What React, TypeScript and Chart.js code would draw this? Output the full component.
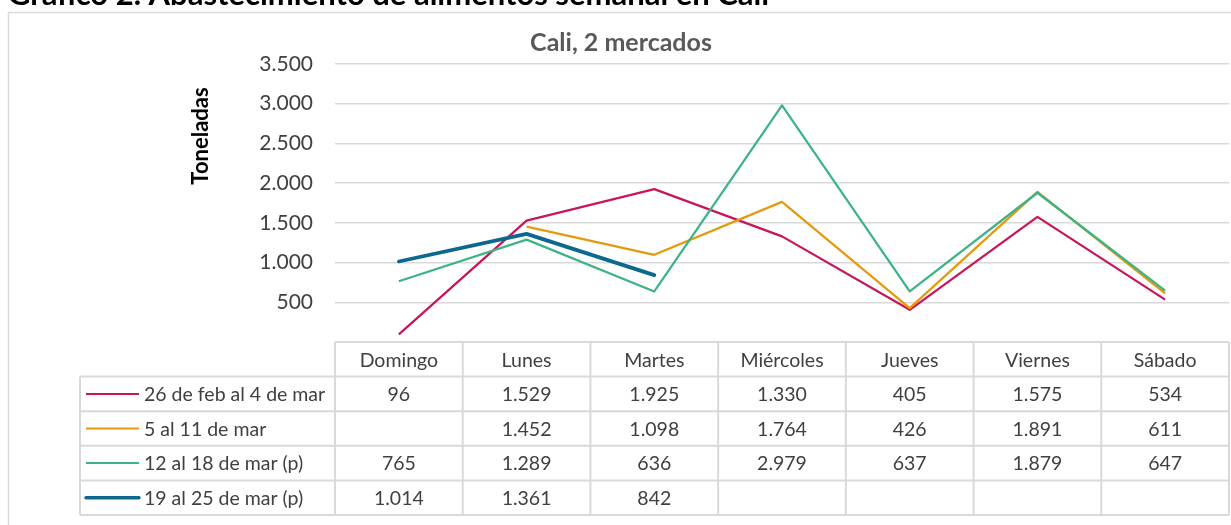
import React, { useEffect, useRef } from "react";
import { Chart, registerables } from "chart.js";

Chart.register(...registerables);

const pageTitle = "Gráfico 2. Abastecimiento de alimentos semanal en Cali";
const chartTitle = "Cali, 2 mercados";
const yAxisTitle = "Toneladas";
const categories = ["Domingo", "Lunes", "Martes", "Miércoles", "Jueves", "Viernes", "Sábado"];
const seriesLabels = ["26 de feb al 4 de mar", "5 al 11 de mar", "12 al 18 de mar (p)", "19 al 25 de mar (p)"];
const week1 = [96, 1529, 1925, 1330, 405, 1575, 534];
const week2 = [null, 1452, 1098, 1764, 426, 1891, 611];
const week3 = [765, 1289, 636, 2979, 637, 1879, 647];
const week4 = [1014, 1361, 842, null, null, null, null];
const seriesColors = ["#C8155C", "#E5990F", "#3DB386", "#0D6890"];
const seriesWidths = [2.25, 2.25, 2.25, 3.75];
const yMin = 0;
const yMax = 3500;
const yStep = 500;

const allSeries = [week1, week2, week3, week4];

function fmt(v: number | null): string {
  if (v === null || v === undefined) return "";
  return String(v).replace(/\B(?=(\d{3})+(?!\d))/g, ".");
}

const FONT = "Lato, 'Open Sans', sans-serif";
const GRID = "#d9d9d9";
const TEXT = "#404040";

const decorPlugin = {
  id: "decor",
  beforeDraw(chart: any) {
    const ctx = chart.ctx;
    ctx.save();
    ctx.fillStyle = "#ffffff";
    ctx.fillRect(0, 0, chart.width, chart.height);
    // outer box
    ctx.strokeStyle = GRID;
    ctx.lineWidth = 1.5;
    ctx.strokeRect(8.5, 12.5, chart.width + 20, chart.height + 20);
    // page title (cut off at the top)
    ctx.fillStyle = "#000000";
    ctx.font = `bold 31px ${FONT}`;
    ctx.textAlign = "left";
    ctx.textBaseline = "alphabetic";
    ctx.fillText(pageTitle, 8, 5);
    // chart title
    ctx.fillStyle = "#595959";
    ctx.font = `bold 25px ${FONT}`;
    ctx.textAlign = "center";
    ctx.textBaseline = "middle";
    ctx.fillText(chartTitle, 621, 43);
    // y axis title
    ctx.save();
    ctx.translate(201, 136);
    ctx.rotate(-Math.PI / 2);
    ctx.fillStyle = "#000000";
    ctx.font = `bold 22px ${FONT}`;
    ctx.fillText(yAxisTitle, 0, 0);
    ctx.restore();
    ctx.restore();
  },
  afterDraw(chart: any) {
    const ctx = chart.ctx;
    const xs = chart.scales.x;
    const area = chart.chartArea;
    const n = categories.length;
    const step = xs.getPixelForValue(1) - xs.getPixelForValue(0);
    const left = xs.getPixelForValue(0) - step / 2;
    const right = left + step * n;
    const top = area.bottom;
    const rowH = 34.6;
    const legendLeft = 80;
    const nRows = allSeries.length;
    ctx.save();
    ctx.strokeStyle = GRID;
    ctx.lineWidth = 2;
    const line = (x1: number, y1: number, x2: number, y2: number) => {
      ctx.beginPath();
      ctx.moveTo(x1, y1);
      ctx.lineTo(x2, y2);
      ctx.stroke();
    };
    line(left, top, right, top);
    for (let r = 1; r <= nRows + 1; r++) {
      line(legendLeft, top + r * rowH, right, top + r * rowH);
    }
    line(legendLeft, top + rowH, legendLeft, top + (nRows + 1) * rowH);
    for (let c = 0; c <= n; c++) {
      const x = left + c * step;
      line(x, top, x, top + (nRows + 1) * rowH);
    }
    ctx.fillStyle = TEXT;
    ctx.font = `19.5px ${FONT}`;
    ctx.textAlign = "center";
    ctx.textBaseline = "middle";
    categories.forEach((cat, i) => {
      ctx.fillText(cat, xs.getPixelForValue(i), top + rowH / 2 + 1);
    });
    allSeries.forEach((data, r) => {
      const cy = top + (r + 1) * rowH + rowH / 2 + 1;
      ctx.strokeStyle = seriesColors[r];
      ctx.lineWidth = r === 3 ? 3.5 : 2;
      ctx.lineCap = r === 3 ? "round" : "butt";
      line(86, cy - 1, 139, cy - 1);
      ctx.fillStyle = TEXT;
      ctx.textAlign = "left";
      ctx.fillText(seriesLabels[r], 144, cy);
      ctx.textAlign = "center";
      data.forEach((v, i) => {
        ctx.fillText(fmt(v as any), xs.getPixelForValue(i), cy);
      });
    });
    ctx.restore();
  },
};

export default function App() {
  const ref = useRef<HTMLCanvasElement | null>(null);
  useEffect(() => {
    if (!ref.current) return;
    const chart = new Chart(ref.current, {
      type: "line",
      data: {
        labels: categories,
        datasets: allSeries.map((d, i) => ({
          label: seriesLabels[i],
          data: d as any,
          borderColor: seriesColors[i],
          backgroundColor: seriesColors[i],
          borderWidth: seriesWidths[i],
          pointRadius: 0,
          tension: 0,
          spanGaps: false,
          fill: false,
          order: 3 - i,
          borderCapStyle: i === 3 ? "round" : "butt",
          borderJoinStyle: "round",
        })),
      },
      options: {
        responsive: false,
        animation: false,
        layout: { padding: { top: 64, bottom: 183, left: 0, right: 2 } },
        plugins: {
          legend: { display: false },
          title: { display: false },
          tooltip: { enabled: false },
        },
        scales: {
          x: {
            type: "category",
            offset: true,
            display: false,
          },
          y: {
            min: yMin,
            max: yMax,
            afterFit(scale: any) {
              scale.width = 335;
            },
            border: { display: false },
            grid: { color: GRID, lineWidth: 1.5, drawTicks: false },
            ticks: {
              stepSize: yStep,
              padding: 22,
              color: TEXT,
              font: { family: FONT, size: 21 },
              callback: (v: any) => (Number(v) === 0 ? "" : fmt(Number(v))),
            },
          },
        },
      },
      plugins: [decorPlugin],
    } as any);
    return () => chart.destroy();
  }, []);
  return (
    <div style={{ position: "absolute", left: 0, top: 0, width: 1231, height: 525, overflow: "hidden" }}>
      <canvas ref={ref} width={1231} height={525} style={{ display: "block" }} />
    </div>
  );
}
